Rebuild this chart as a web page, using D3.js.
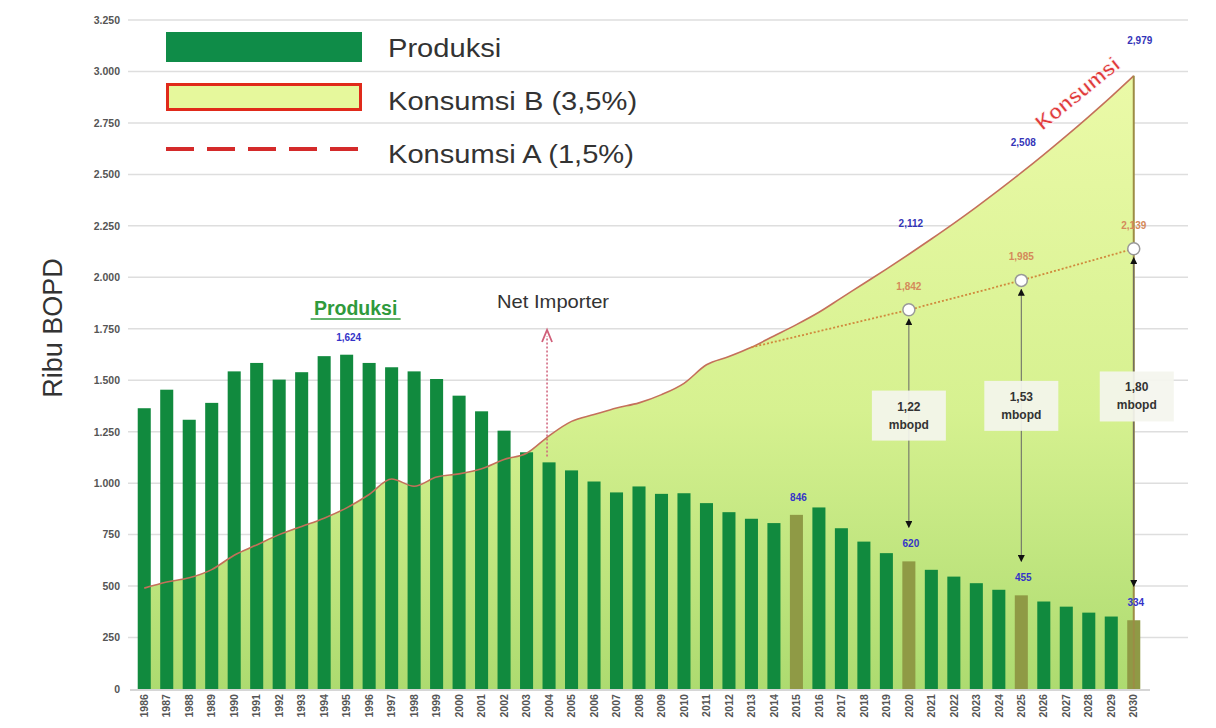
<!DOCTYPE html>
<html>
<head>
<meta charset="utf-8">
<script src="https://cdn.jsdelivr.net/npm/d3@7"></script>
<style>
  body { margin: 0; background: #fff; }
  svg { font-family: 'Liberation Sans', Arial, sans-serif; }
</style>
</head>
<body>
<div id="chart"></div>
<script>
const years = d3.range(1986, 2031)

// ribu BOPD
const produksi = [
  1364, 1454, 1308, 1390, 1543, 1584, 1503, 1539, 1617, 1624,
  1584, 1563, 1543, 1506, 1425, 1349, 1255, 1150, 1101, 1062,
  1008, 955, 984, 948, 951, 903, 859, 827, 806, 846,
  882, 781, 716, 660, 620, 579, 546, 514, 482, 455,
  425, 400, 371, 352, 334
]

const konsumsiB = [
  490, 520, 540, 580, 650, 700, 750, 790, 830, 880,
  945, 1020, 985, 1030, 1045, 1070, 1115, 1145, 1230, 1300,
  1333, 1365, 1390, 1430, 1485, 1575, 1615, 1660, 1715, 1770,
  1830, 1900, 1970, 2040, 2112, 2186, 2262, 2341, 2423, 2508,
  2596, 2687, 2781, 2878, 2979
]

const konsumsiAYears = [2013, 2020, 2025, 2030]
const konsumsiA = [1660, 1842, 1985, 2139]

const highlightYears = [2015, 2020, 2025, 2030]
const gapYears = [2020, 2025, 2030]
const gapLabels = ['1,22', '1,53', '1,80']
const labelBYears = [2020, 2025, 2030]
const yTicks = d3.range(0, 3251, 250)

const width = 1216
const height = 728

const svg = d3.select('#chart')
  .append('svg')
  .attr('width', width)
  .attr('height', height)

const x = d3.scaleBand()
  .domain(years)
  .range([133, 1145])
  .paddingInner(0.42)
  .paddingOuter(0.21)

const cx = yr => x(yr) + x.bandwidth() / 2

const y = d3.scaleLinear().domain([0, 3250]).range([689, 20])

const dotLocale = d3.formatLocale({ decimal: ',', thousands: '.', grouping: [3], currency: ['', ''] })
const fmtAxis = dotLocale.format(',')
const fmtVal = d3.format(',')

// gradient for consumption area
const defs = svg.append('defs')
const grad = defs.append('linearGradient')
  .attr('id', 'areaGrad')
  .attr('gradientUnits', 'userSpaceOnUse')
  .attr('x1', 0).attr('x2', 0)
  .attr('y1', y(3000)).attr('y2', y(0))
grad.append('stop').attr('offset', 0).attr('stop-color', '#ebfaa8')
grad.append('stop').attr('offset', 0.55).attr('stop-color', '#d6f190')
grad.append('stop').attr('offset', 1).attr('stop-color', '#addb70')

// grid
svg.append('g')
  .selectAll('line')
  .data(yTicks.filter(d => d > 0))
  .enter()
  .append('line')
  .attr('x1', 128)
  .attr('x2', 1188)
  .attr('y1', d => y(d))
  .attr('y2', d => y(d))
  .attr('stroke', '#dedede')
  .attr('stroke-width', 1.5)

// y axis
const yAxis = svg.append('g')
  .attr('transform', 'translate(122,0)')
  .call(d3.axisLeft(y).tickValues(yTicks).tickSize(0).tickPadding(2).tickFormat(fmtAxis))
yAxis.select('.domain').remove()
yAxis.selectAll('text')
  .attr('font-size', 10.5)
  .attr('font-weight', 'bold')
  .attr('fill', '#555')

svg.append('text')
  .attr('transform', 'translate(62,' + 328 + ') rotate(-90)')
  .attr('text-anchor', 'middle')
  .attr('font-size', 27)
  .attr('fill', '#333')
  .text('Ribu BOPD')

// consumption B area
const consData = years.map((yr, i) => ({ year: yr, value: konsumsiB[i] }))
const area = d3.area()
  .x(d => cx(d.year))
  .y0(y(0))
  .y1(d => y(d.value))
  .curve(d3.curveMonotoneX)

svg.append('path')
  .datum(consData)
  .attr('d', area)
  .attr('fill', 'url(#areaGrad)')

// bars
svg.selectAll('.bar')
  .data(years.map((yr, i) => ({ year: yr, value: produksi[i] })))
  .enter()
  .append('rect')
  .attr('class', 'bar')
  .attr('x', d => x(d.year))
  .attr('width', x.bandwidth())
  .attr('y', d => y(d.value))
  .attr('height', d => y(0) - y(d.value))
  .attr('fill', d => highlightYears.includes(d.year) ? '#8f9a45' : '#118a3e')

// consumption B line
const line = d3.line()
  .x(d => cx(d.year))
  .y(d => y(d.value))
  .curve(d3.curveMonotoneX)

svg.append('path')
  .datum(consData)
  .attr('d', line)
  .attr('fill', 'none')
  .attr('stroke', '#c4705a')
  .attr('stroke-width', 1.6)

const last = consData[consData.length - 1]
svg.append('line')
  .attr('x1', cx(last.year))
  .attr('x2', cx(last.year))
  .attr('y1', y(last.value))
  .attr('y2', y(0))
  .attr('stroke', '#9c8c45')
  .attr('stroke-width', 2)

// baseline
svg.append('line')
  .attr('x1', 130)
  .attr('x2', 1150)
  .attr('y1', y(0) + 1)
  .attr('y2', y(0) + 1)
  .attr('stroke', '#c8c8c8')
  .attr('stroke-width', 1.5)

// x axis
const xAxis = svg.append('g')
  .attr('transform', 'translate(0,' + (y(0) + 2) + ')')
  .call(d3.axisBottom(x).tickSize(0).tickPadding(0))
xAxis.select('.domain').remove()
xAxis.selectAll('text')
  .attr('transform', 'rotate(-90)')
  .attr('text-anchor', 'end')
  .attr('dx', '-0.3em')
  .attr('dy', '0.35em')
  .attr('y', 0)
  .attr('x', 0)
  .attr('font-size', 10.5)
  .attr('font-weight', 'bold')
  .attr('fill', '#555')

// konsumsi A dotted line
const consA = konsumsiAYears.map((yr, i) => ({ year: yr, value: konsumsiA[i] }))
svg.append('path')
  .datum(consA)
  .attr('d', d3.line().x(d => cx(d.year)).y(d => y(d.value)))
  .attr('fill', 'none')
  .attr('stroke', '#d08a3c')
  .attr('stroke-width', 1.8)
  .attr('stroke-dasharray', '2,2')

// arrows between consumption A and production
defs.append('marker')
  .attr('id', 'tri')
  .attr('viewBox', '0 0 10 10')
  .attr('refX', 9)
  .attr('refY', 5)
  .attr('markerWidth', 7)
  .attr('markerHeight', 7)
  .attr('orient', 'auto-start-reverse')
  .append('path')
  .attr('d', 'M0,0 L10,5 L0,10 Z')
  .attr('fill', '#111')

const boxShift = [-20, -32, -38]
gapYears.forEach((yr, i) => {
  const top = y(konsumsiA[konsumsiAYears.indexOf(yr)])
  const bot = y(produksi[years.indexOf(yr)])
  svg.append('line')
    .attr('x1', cx(yr))
    .attr('x2', cx(yr))
    .attr('y1', top + 9)
    .attr('y2', bot - 34)
    .attr('stroke', '#666')
    .attr('stroke-width', 1)
    .attr('marker-start', 'url(#tri)')
    .attr('marker-end', 'url(#tri)')

  const bx = cx(yr) + (i === 2 ? 3 : 0)
  const by = (top + bot) / 2 + boxShift[i]
  svg.append('rect')
    .attr('x', bx - 37)
    .attr('y', by - 25)
    .attr('width', 74)
    .attr('height', 50)
    .attr('fill', '#f4f5ee')
    .attr('opacity', 0.92)
  svg.append('text')
    .attr('x', bx)
    .attr('y', by - 5)
    .attr('text-anchor', 'middle')
    .attr('font-size', 12)
    .attr('font-weight', 'bold')
    .attr('fill', '#333')
    .text(gapLabels[i])
  svg.append('text')
    .attr('x', bx)
    .attr('y', by + 13)
    .attr('text-anchor', 'middle')
    .attr('font-size', 12)
    .attr('font-weight', 'bold')
    .attr('fill', '#333')
    .text('mbopd')
})

// konsumsi A circles + labels
svg.selectAll('.circA')
  .data(consA.slice(1))
  .enter()
  .append('circle')
  .attr('cx', d => cx(d.year))
  .attr('cy', d => y(d.value))
  .attr('r', 6)
  .attr('fill', '#fff')
  .attr('stroke', '#999')
  .attr('stroke-width', 1.5)

svg.selectAll('.labA')
  .data(consA.slice(1))
  .enter()
  .append('text')
  .attr('x', d => cx(d.year))
  .attr('y', d => y(d.value) - 20)
  .attr('text-anchor', 'middle')
  .attr('font-size', 10)
  .attr('font-weight', 'bold')
  .attr('fill', '#d48a5a')
  .text(d => fmtVal(d.value))

// konsumsi B labels
svg.selectAll('.labB')
  .data(labelBYears.map(yr => ({ year: yr, value: konsumsiB[years.indexOf(yr)] })))
  .enter()
  .append('text')
  .attr('x', (d, i) => cx(d.year) + (i === 2 ? 6 : 2))
  .attr('y', (d, i) => y(d.value) - (i === 2 ? 32 : 27))
  .attr('text-anchor', 'middle')
  .attr('font-size', 10)
  .attr('font-weight', 'bold')
  .attr('fill', '#3434b8')
  .text(d => fmtVal(d.value))

// production labels
const prodLabelYears = [1995, 2015, 2020, 2025, 2030]
svg.selectAll('.labP')
  .data(prodLabelYears.map(yr => ({ year: yr, value: produksi[years.indexOf(yr)] })))
  .enter()
  .append('text')
  .attr('x', d => cx(d.year) + 2)
  .attr('y', d => y(d.value) - 14)
  .attr('text-anchor', 'middle')
  .attr('font-size', 10)
  .attr('font-weight', 'bold')
  .attr('fill', '#3434c8')
  .text(d => fmtVal(d.value))

// Konsumsi curve label
svg.append('text')
  .attr('transform', 'translate(1082,99) rotate(-39)')
  .attr('text-anchor', 'middle')
  .attr('font-size', 21)
  .attr('font-weight', 'bold')
  .attr('fill', '#e03a3a')
  .attr('stroke', '#fff')
  .attr('stroke-width', 0.6)
  .text('Konsumsi')

// Produksi annotation
svg.append('text')
  .attr('x', cx(1995) + 9)
  .attr('y', 315)
  .attr('text-anchor', 'middle')
  .attr('font-size', 19.5)
  .attr('font-weight', 'bold')
  .attr('fill', '#2f9a3c')
  .text('Produksi')
svg.append('line')
  .attr('x1', cx(1995) + 9 - 45)
  .attr('x2', cx(1995) + 9 + 45)
  .attr('y1', 319)
  .attr('y2', 319)
  .attr('stroke', '#2f9a3c')
  .attr('stroke-width', 1.5)

// Net importer
const niYear = 2004
svg.append('line')
  .attr('x1', cx(niYear) - 2)
  .attr('x2', cx(niYear) - 2)
  .attr('y1', y(1130))
  .attr('y2', y(1715))
  .attr('stroke', '#d0607a')
  .attr('stroke-width', 1.5)
  .attr('stroke-dasharray', '2,2')
svg.append('path')
  .attr('d', 'M' + (cx(niYear) - 7) + ',' + (y(1715) + 6) + ' L' + (cx(niYear) - 2) + ',' + y(1745) + ' L' + (cx(niYear) + 3) + ',' + (y(1715) + 6))
  .attr('fill', 'none')
  .attr('stroke', '#d0607a')
  .attr('stroke-width', 1.8)
svg.append('text')
  .attr('transform', 'translate(' + (cx(niYear) + 4) + ',308) scale(1.12,1)')
  .attr('text-anchor', 'middle')
  .attr('font-size', 18)
  .attr('fill', '#333')
  .text('Net Importer')

// legend
const legend = svg.append('g')
legend.append('rect')
  .attr('x', 166).attr('y', 32).attr('width', 196).attr('height', 30)
  .attr('fill', '#0f8c48')
legend.append('rect')
  .attr('x', 167.5).attr('y', 84.5).attr('width', 193).attr('height', 25)
  .attr('fill', '#e6f89c')
  .attr('stroke', '#e02a1a')
  .attr('stroke-width', 3)
legend.append('line')
  .attr('x1', 166).attr('x2', 362).attr('y1', 149).attr('y2', 149)
  .attr('stroke', '#d42a2a')
  .attr('stroke-width', 4)
  .attr('stroke-dasharray', '28,13')
legend.selectAll('.lt')
  .data(['Produksi', 'Konsumsi B (3,5%)', 'Konsumsi A (1,5%)'])
  .enter()
  .append('text')
  .attr('transform', (d, i) => 'translate(388,' + (57 + i * 53) + ') scale(1.12,1)')
  .attr('font-size', 26)
  .attr('fill', '#333')
  .text(d => d)
</script>
</body>
</html>
